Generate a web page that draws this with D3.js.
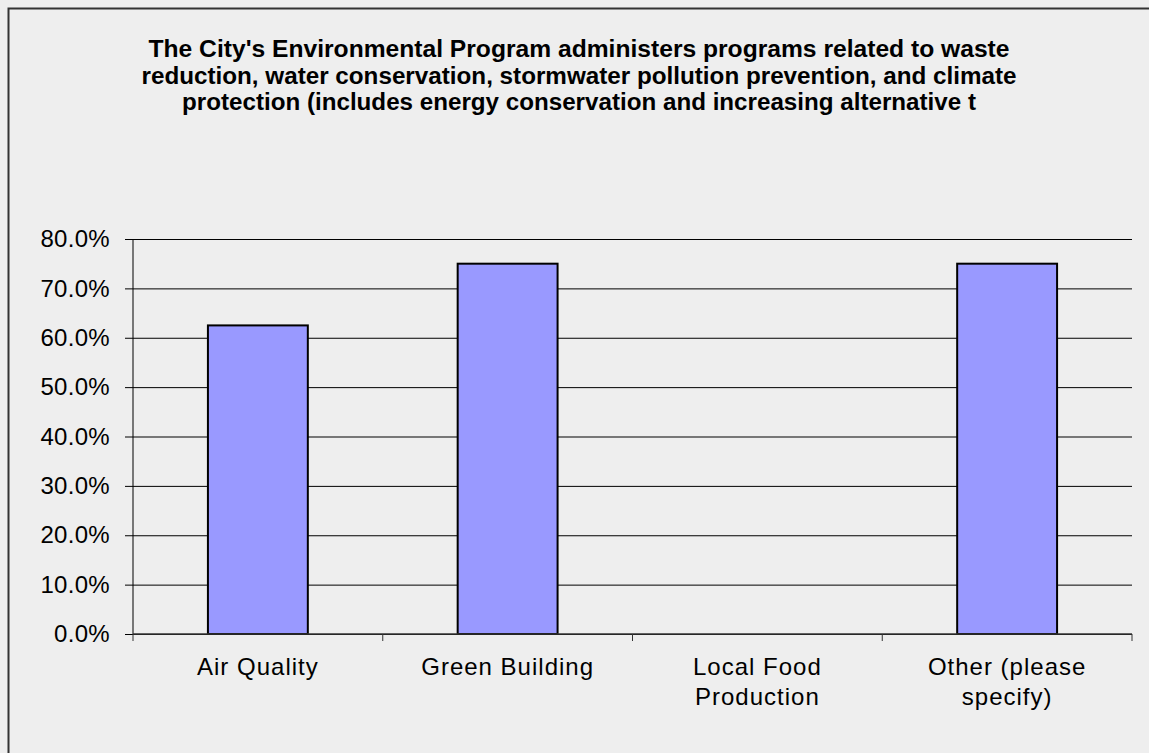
<!DOCTYPE html>
<html lang="en">
<head>
    <meta charset="UTF-8">
    <script src="https://cdn.jsdelivr.net/npm/d3@7"></script>
    <title>Environmental Program</title>
    <style>
        body { margin: 0; background: #eeeeee; }
        svg { display: block; font-family: Arial, "Liberation Sans", sans-serif; }
    </style>
</head>
<body>
<script>
    // data
    var categories = ["Air Quality", "Green Building", "Local Food Production", "Other (please specify)"];
    var labelLines = [["Air Quality"], ["Green Building"], ["Local Food", "Production"], ["Other (please", "specify)"]];
    var values = [0.625, 0.75, 0, 0.75];
    var yTicks = [0, 0.1, 0.2, 0.3, 0.4, 0.5, 0.6, 0.7, 0.8];
    var titleLines = [
        "The City's Environmental Program administers programs related to waste",
        "reduction, water conservation, stormwater pollution prevention, and climate",
        "protection (includes energy conservation and increasing alternative t"
    ];
    var titleWidths = [861, 875, 794];   // widths of the wrapped title lines as drawn

    var W = 1149, H = 753;
    var margin = {top: 239, right: 17, bottom: 119, left: 133};
    var width = W - margin.left - margin.right,
        height = H - margin.top - margin.bottom;

    var svg = d3.select("body").append("svg")
        .attr("width", W)
        .attr("height", H);

    // outer chart frame
    svg.append("rect")
        .attr("x", 8.5).attr("y", 8.5)
        .attr("width", W + 20).attr("height", H + 20)
        .attr("fill", "#eeeeee")
        .attr("stroke", "#333").attr("stroke-width", 2);

    // title, already wrapped into lines
    svg.append("g").selectAll("text")
        .data(titleLines)
        .enter().append("text")
        .attr("x", 579)
        .attr("y", (d, i) => 57 + i * 26.5)
        .attr("font-weight", "bold")
        .attr("font-size", 23.5)
        .attr("text-anchor", "middle")
        .attr("fill", "#000")
        .attr("textLength", (d, i) => titleWidths[i])
        .attr("lengthAdjust", "spacingAndGlyphs")
        .text(d => d);

    var g = svg.append("g")
        .attr("transform", "translate(" + margin.left + "," + margin.top + ")");

    var x = d3.scaleBand()
        .domain(categories)
        .range([0, width]);

    var y = d3.scaleLinear()
        .domain([0, 0.8])
        .range([height, 0]);

    // gridlines + y axis
    var yAxis = d3.axisLeft(y)
        .tickValues(yTicks)
        .tickSize(-width)
        .tickSizeOuter(0)
        .tickPadding(23)
        .tickFormat(d3.format(".1%"));

    var yg = g.append("g").call(yAxis);
    yg.select(".domain").remove();
    yg.selectAll(".tick line")
        .attr("x1", -8)
        .attr("stroke", "#000");
    yg.selectAll(".tick text")
        .attr("font-size", 24)
        .attr("letter-spacing", 0.3)
        .attr("fill", "#000")
        .attr("font-family", "Arial, 'Liberation Sans', sans-serif");

    g.append("line")
        .attr("x1", 0).attr("x2", 0)
        .attr("y1", 0).attr("y2", height)
        .attr("stroke", "#000");

    // bars
    g.selectAll("rect.bar")
        .data(values)
        .enter().append("rect")
        .attr("class", "bar")
        .attr("x", (d, i) => x(categories[i]) + x.bandwidth() * 0.3)
        .attr("width", x.bandwidth() * 0.4)
        .attr("y", d => y(d))
        .attr("height", d => height - y(d))
        .attr("fill", d => d > 0 ? "#9999ff" : "none")
        .attr("stroke", d => d > 0 ? "#000" : "none")
        .attr("stroke-width", 2);

    // x axis
    var xEdges = categories.map(c => x(c)).concat([width]);
    var xg = g.append("g").attr("transform", "translate(0," + height + ")");
    xg.append("line")
        .attr("x1", 0).attr("x2", width)
        .attr("stroke", "#333").attr("stroke-width", 1.5);
    xg.selectAll("line.tick")
        .data(xEdges)
        .enter().append("line")
        .attr("class", "tick")
        .attr("x1", d => d).attr("x2", d => d)
        .attr("y1", 0).attr("y2", 7)
        .attr("stroke", "#333");

    xg.selectAll("text.lab")
        .data(labelLines)
        .enter().append("text")
        .attr("class", "lab")
        .attr("text-anchor", "middle")
        .attr("font-size", 24)
        .attr("letter-spacing", 1)
        .attr("fill", "#000")
        .each(function (lines, i) {
            d3.select(this).selectAll("tspan")
                .data(lines)
                .enter().append("tspan")
                .attr("x", x(categories[i]) + x.bandwidth() / 2)
                .attr("y", (d, j) => 41 + j * 30)
                .text(d => d);
        });
</script>
</body>
</html>
